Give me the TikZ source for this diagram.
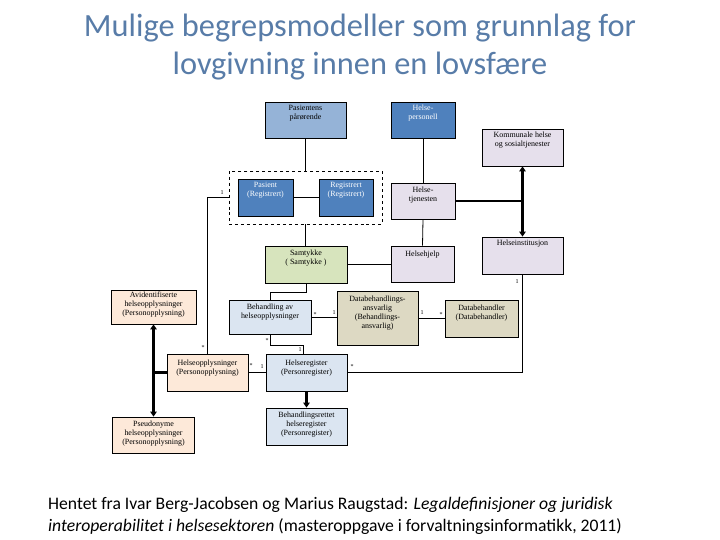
\documentclass[tikz,border=0pt]{standalone}
\usepackage{fontspec}
\setmainfont{Liberation Serif}
\newfontfamily\calfont{Carlito}
\usetikzlibrary{arrows.meta,positioning}
\definecolor{titlecol}{RGB}{88,124,168}
\definecolor{blueA}{RGB}{149,179,215}
\definecolor{blueB}{RGB}{79,129,189}
\definecolor{lav}{RGB}{230,224,236}
\definecolor{greenfill}{RGB}{215,228,189}
\definecolor{peach}{RGB}{253,233,217}
\definecolor{ice}{RGB}{219,229,241}
\definecolor{tanfill}{RGB}{221,217,195}
\begin{document}
\begin{tikzpicture}[x=1bp,y=-1bp,
  box/.style={draw=black, line width=0.8bp, inner sep=0pt},
  lbl/.style={font=\fontsize{8}{9}\selectfont, align=center, inner sep=0pt, anchor=north},
  wlbl/.style={lbl, text=white},
  mult/.style={font=\fontsize{6}{6}\selectfont, inner sep=0pt},
  conn/.style={draw=black, line width=0.8bp},
  heavy/.style={draw=black, line width=2.4bp},
  harrow/.style={heavy, -{Triangle[length=5bp,width=6.5bp]}},
  ttl/.style={font=\calfont\fontsize{32.5}{38}\selectfont, text=titlecol, align=center, inner sep=0pt},
  captxt/.style={font=\calfont\fontsize{17.7}{22}\selectfont, align=left, inner sep=0pt, anchor=north west}
]
\useasboundingbox (0,0) rectangle (720,540);

% title
\node[ttl] (title) at (360,47) {Mulige begrepsmodeller som grunnlag for\\lovgivning innen en lovsfære};

% boxes
\node[box, fill=blueA, minimum width=81bp, minimum height=36bp] (pp) at (305.5,120) {};
\node[lbl, below=3bp of pp.north] (pp-t) {Pasientens\\pårørende};
\node[box, fill=blueB, minimum width=64bp, minimum height=36bp] (hp) at (423,120) {};
\node[wlbl, below=3bp of hp.north] (hp-t) {Helse-\\personell};
\node[box, fill=lav, minimum width=81bp, minimum height=37bp] (kom) at (522.5,147.5) {};
\node[lbl, below=3bp of kom.north] (kom-t) {Kommunale helse\\og sosialtjenester};

\node[draw=black, dashed, line width=0.8bp, minimum width=153bp, minimum height=53bp, inner sep=0pt] (dash) at (305.5,197.5) {};
\node[box, fill=blueB, minimum width=55bp, minimum height=37bp] (pas) at (265.5,197.5) {};
\node[wlbl, below=3bp of pas.north] (pas-t) {Pasient\\(Registrert)};
\node[box, fill=blueB, minimum width=54bp, minimum height=37bp] (reg) at (346,197.5) {};
\node[wlbl, below=3bp of reg.north] (reg-t) {Registrert\\(Registrert)};
\node[box, fill=lav, minimum width=64bp, minimum height=36bp] (ht) at (423,201) {};
\node[lbl, below=4bp of ht.north] (ht-t) {Helse-\\tjenesten};

\node[box, fill=greenfill, minimum width=82bp, minimum height=37bp] (sam) at (306,264.5) {};
\node[lbl, below=4bp of sam.north] (sam-t) {Samtykke\\( Samtykke )};
\node[box, fill=lav, minimum width=63bp, minimum height=36bp] (hh) at (422.5,264) {};
\node[lbl, below=5bp of hh.north] (hh-t) {Helsehjelp};
\node[box, fill=lav, minimum width=81bp, minimum height=37bp] (hi) at (522.5,255.5) {};
\node[lbl, below=3bp of hi.north] (hi-t) {Helseinstitusjon};

\node[box, fill=peach, minimum width=85bp, minimum height=34bp] (avi) at (153.5,307) {};
\node[lbl, below=2.5bp of avi.north] (avi-t) {Avidentifiserte\\helseopplysninger\\(Personopplysning)};
\node[box, fill=ice, minimum width=82bp, minimum height=34bp] (beh) at (270,317) {};
\node[lbl, below=4bp of beh.north] (beh-t) {Behandling av\\helseopplysninger};
\node[box, fill=tanfill, minimum width=81bp, minimum height=54bp] (dba) at (377.5,318) {};
\node[lbl, below=5bp of dba.north] (dba-t) {Databehandlings-\\ansvarlig\\(Behandlings-\\ansvarlig)};
\node[box, fill=tanfill, minimum width=73bp, minimum height=37bp] (db) at (481.5,318.5) {};
\node[lbl, below=5bp of db.north] (db-t) {Databehandler\\(Databehandler)};

\node[box, fill=peach, minimum width=81bp, minimum height=37bp] (hopp) at (207.5,372.5) {};
\node[lbl, below=6bp of hopp.north] (hopp-t) {Helseopplysninger\\(Personopplysning)};
\node[box, fill=ice, minimum width=81bp, minimum height=37bp] (hreg) at (306.5,372.5) {};
\node[lbl, below=6bp of hreg.north] (hreg-t) {Helseregister\\(Personregister)};
\node[box, fill=peach, minimum width=82bp, minimum height=36bp] (pseu) at (153.5,435) {};
\node[lbl, below=4bp of pseu.north] (pseu-t) {Pseudonyme\\helseopplysninger\\(Personopplysning)};
\node[box, fill=ice, minimum width=81bp, minimum height=37bp] (brh) at (306.5,426.5) {};
\node[lbl, below=4bp of brh.north] (brh-t) {Behandlingsrettet\\helseregister\\(Personregister)};

% connectors
\draw[conn] (pp.south) -- (pp.south |- dash.north);
\draw[conn] (hp.south) -- (ht.north);
\draw[conn] (pas.east) -- (reg.west);
\draw[conn] (dash.south) -- (dash.south |- sam.north);
\draw[conn] (ht.south) -- (hh.north);
\draw[conn] (sam.east) -- (sam.east -| hh.west);
\coordinate (j1) at (ht.east -| kom.south);
\draw[heavy] (ht.east) -- (j1);
\draw[harrow] (j1) -- (kom.south);
\draw[harrow] (j1) -- (hi.north);
\draw[conn] (hi.south) |- (hreg.east);
\draw[conn] (dba.east) -- (dba.east -| db.west);
\draw[conn] (beh.east) -- (beh.east -| dba.west);
\draw[conn] (sam.south) -- ++(0,9) -| (beh.north);
\draw[conn] (beh.south) -- ++(0,11) -| ([xshift=-3bp]hreg.north);
\draw[conn] (hopp.east) -- (hreg.west);
\draw[conn] (dash.west) -| (hopp.north);
\coordinate (j2) at (hopp.west -| avi.south);
\draw[heavy] (hopp.west) -- (j2);
\draw[harrow] (j2) -- (avi.south);
\draw[harrow] (j2) -- (pseu.north);
\draw[harrow] (hreg.south) -- (brh.north);

% multiplicities
\node[mult] (m1) at (222,193) {1};
\node[mult] (m2) at (203,348) {*};
\node[mult] (m3) at (315,315) {*};
\node[mult] (m4) at (334,313) {1};
\node[mult] (m5) at (267,341) {*};
\node[mult] (m6) at (300,350) {1};
\node[mult] (m7) at (251,366) {*};
\node[mult] (m8) at (262,367) {1};
\node[mult] (m9) at (352,367) {*};
\node[mult] (m10) at (517,282) {1};
\node[mult] (m11) at (422,313) {1};
\node[mult] (m12) at (441,315) {*};

% caption
\node[captxt] (caption) at (48,497) {Hentet fra Ivar Berg-Jacobsen og Marius Raugstad: \textit{Legaldefinisjoner og juridisk}\\\textit{interoperabilitet i helsesektoren} (masteroppgave i forvaltningsinformatikk, 2011)};
\end{tikzpicture}
\end{document}
